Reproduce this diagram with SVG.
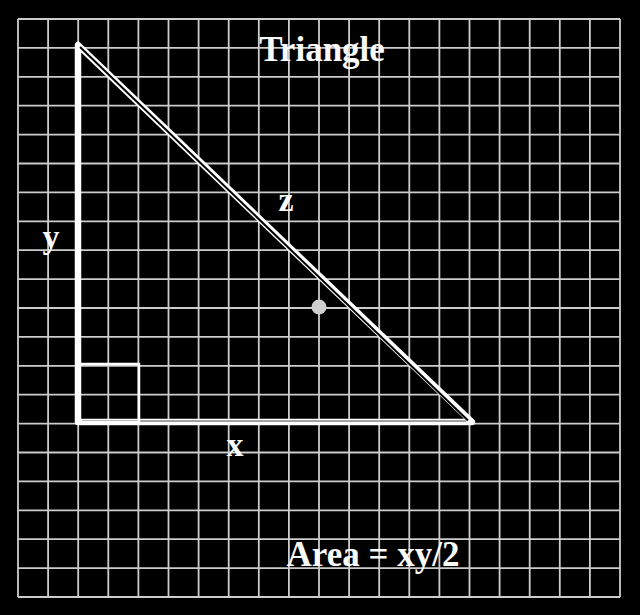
<svg xmlns="http://www.w3.org/2000/svg" width="640" height="615" viewBox="0 0 640 615">
<style>
.grid line{stroke:#cccccc;stroke-width:1.8}
.lbl{font-family:"Liberation Serif","Times New Roman",serif;font-weight:bold;fill:#fafafa}
</style>
<rect width="640" height="615" fill="#000"/>
<g id="grid" class="grid">
<line x1="18" y1="19" x2="18" y2="597"/><line x1="48.1" y1="19" x2="48.1" y2="597"/><line x1="78.2" y1="19" x2="78.2" y2="597"/><line x1="108.3" y1="19" x2="108.3" y2="597"/><line x1="138.4" y1="19" x2="138.4" y2="597"/><line x1="168.5" y1="19" x2="168.5" y2="597"/><line x1="198.6" y1="19" x2="198.6" y2="597"/><line x1="228.7" y1="19" x2="228.7" y2="597"/><line x1="258.8" y1="19" x2="258.8" y2="597"/><line x1="288.9" y1="19" x2="288.9" y2="597"/><line x1="319" y1="19" x2="319" y2="597"/><line x1="349.1" y1="19" x2="349.1" y2="597"/><line x1="379.2" y1="19" x2="379.2" y2="597"/><line x1="409.3" y1="19" x2="409.3" y2="597"/><line x1="439.4" y1="19" x2="439.4" y2="597"/><line x1="469.5" y1="19" x2="469.5" y2="597"/><line x1="499.6" y1="19" x2="499.6" y2="597"/><line x1="529.7" y1="19" x2="529.7" y2="597"/><line x1="559.8" y1="19" x2="559.8" y2="597"/><line x1="589.9" y1="19" x2="589.9" y2="597"/><line x1="620" y1="19" x2="620" y2="597"/>
<line x1="18" y1="19" x2="620" y2="19"/><line x1="18" y1="47.9" x2="620" y2="47.9"/><line x1="18" y1="76.8" x2="620" y2="76.8"/><line x1="18" y1="105.7" x2="620" y2="105.7"/><line x1="18" y1="134.6" x2="620" y2="134.6"/><line x1="18" y1="163.5" x2="620" y2="163.5"/><line x1="18" y1="192.4" x2="620" y2="192.4"/><line x1="18" y1="221.3" x2="620" y2="221.3"/><line x1="18" y1="250.2" x2="620" y2="250.2"/><line x1="18" y1="279.1" x2="620" y2="279.1"/><line x1="18" y1="308" x2="620" y2="308"/><line x1="18" y1="336.9" x2="620" y2="336.9"/><line x1="18" y1="365.8" x2="620" y2="365.8"/><line x1="18" y1="394.7" x2="620" y2="394.7"/><line x1="18" y1="423.6" x2="620" y2="423.6"/><line x1="18" y1="452.5" x2="620" y2="452.5"/><line x1="18" y1="481.4" x2="620" y2="481.4"/><line x1="18" y1="510.3" x2="620" y2="510.3"/><line x1="18" y1="539.2" x2="620" y2="539.2"/><line x1="18" y1="568.1" x2="620" y2="568.1"/><line x1="18" y1="597" x2="620" y2="597"/>
</g>
<g id="triangle">
<polygon points="78,45 78,422 472,422" fill="none" stroke="#fff" stroke-width="6.5" stroke-linejoin="round"/>
<line x1="80" y1="47" x2="468" y2="420.5" stroke="#000" stroke-width="2"/>
<line x1="82" y1="421" x2="466" y2="421" stroke="#444" stroke-width="1"/>
<rect x="78" y="364" width="61" height="58" fill="none" stroke="#fff" stroke-width="2.5"/>
</g>
<g id="centroid"><circle cx="319" cy="307" r="7.5" fill="#cfcfcf"/></g>
<g id="labels">
<text class="lbl" x="322" y="61" font-size="35" text-anchor="middle">Triangle</text>
<text class="lbl" x="286" y="211" font-size="34" text-anchor="middle">z</text>
<text class="lbl" x="51" y="248" font-size="34" text-anchor="middle">y</text>
<text class="lbl" x="235" y="456" font-size="34" text-anchor="middle">x</text>
<text class="lbl" x="373" y="566" font-size="35" text-anchor="middle">Area = xy/2</text>
</g>
</svg>
